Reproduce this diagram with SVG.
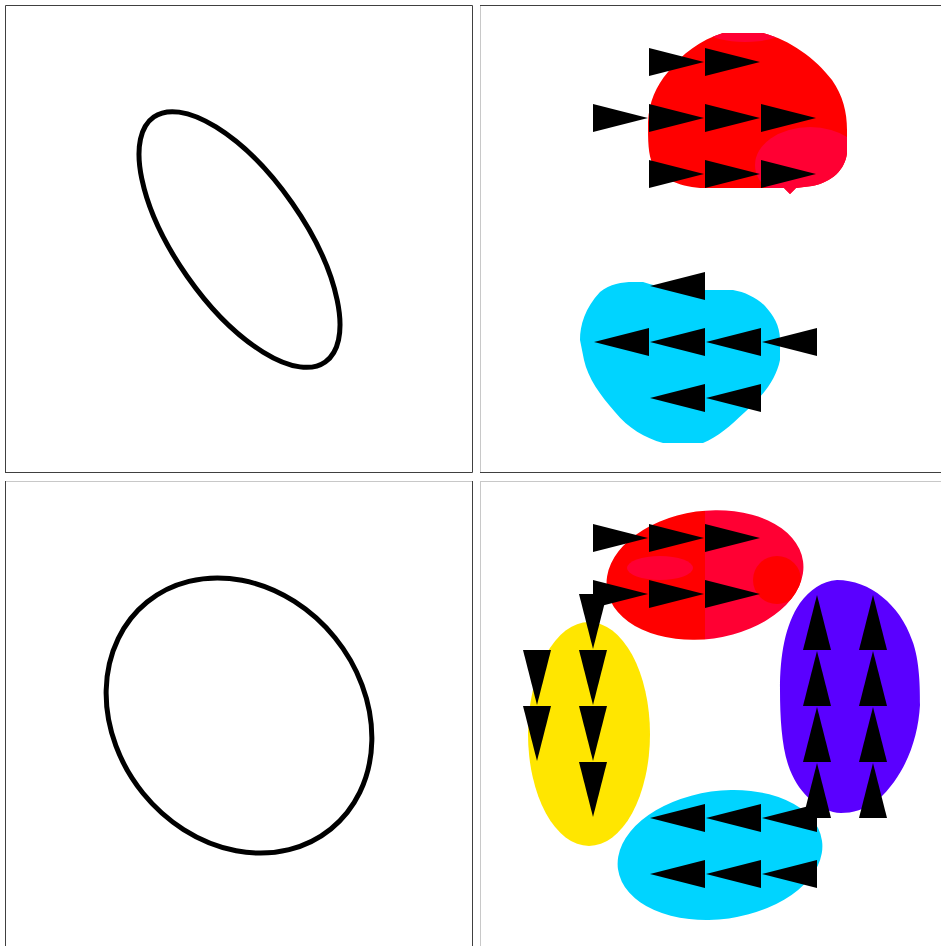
<svg xmlns="http://www.w3.org/2000/svg" xmlns:xlink="http://www.w3.org/1999/xlink" width="941" height="946" viewBox="0 0 941 946">
<style>
.dark{stroke:#404040;stroke-width:1;fill:none}
.light{stroke:#c8c8c8;stroke-width:1;fill:none}
.ring{fill:none;stroke:#000;stroke-width:5}
.arr{fill:#000}
</style>
<defs>
<polygon id="a" points="0,-14 55,0 0,14"/>
<clipPath id="clipRedTop"><path id="redTopShape" d="M723,33 L763,33 C790,40 815,58 832,80 C843,96 847,112 847,130 L847,153 C845,170 832,182 812,186 L796,188 L790,194 L784,188 L700,188 C678,186 660,178 653,165 C648,155 648,140 648,122 C649,102 656,86 668,72 C682,54 700,40 723,33 Z"/></clipPath>
<clipPath id="clipRedBot"><ellipse cx="705" cy="575" rx="99" ry="64" transform="rotate(-8 705 575)"/></clipPath>
</defs>
<rect width="941" height="946" fill="#fff"/>

<g id="frames">
<path class="dark" d="M5.5,472 V5.5 H472.5 V472.5 H5"/>
<path class="light" d="M480.5,5 V473"/>
<path class="dark" d="M480,5.5 H941 M480,472.5 H941"/>
<path class="light" d="M5,481.5 H473"/>
<path class="dark" d="M5.5,481 V946 M472.5,481 V946"/>
<path class="light" d="M480,481.5 H941 M480.5,481 V946"/>
</g>

<g id="panel-top-left">
<ellipse class="ring" cx="239.5" cy="239.5" rx="149.5" ry="64" transform="rotate(55 239.5 239.5)"/>
</g>

<g id="panel-bottom-left">
<ellipse class="ring" cx="239" cy="715.5" rx="146" ry="123.5" transform="rotate(51 239 715.5)"/>
</g>

<g id="panel-top-right">
<g id="blob-red-top" clip-path="url(#clipRedTop)">
<rect x="640" y="30" width="210" height="170" fill="#ff0000"/>
<ellipse cx="810" cy="165" rx="55" ry="38" fill="#ff0033"/>
<ellipse cx="745" cy="33" rx="35" ry="9" fill="#ff0033"/>
</g>
<path id="blob-cyan-top" fill="#00d4ff" d="M600,292 C610,284 622,282 633,282 L643,282 C660,288 680,290 703,290 L733,290 C745,292 757,298 765,306 C773,315 780,325 780,340 L780,360 C776,380 762,397 745,412 C730,426 718,437 703,443 L663,443 C645,438 628,428 615,412 C600,395 588,378 584,360 L580,340 C580,325 585,308 600,292 Z"/>
<g id="arrows-top" class="arr">
<use xlink:href="#a" href="#a" transform="translate(649,62)"/>
<use xlink:href="#a" href="#a" transform="translate(705,62)"/>
<use xlink:href="#a" href="#a" transform="translate(593,118)"/>
<use xlink:href="#a" href="#a" transform="translate(649,118)"/>
<use xlink:href="#a" href="#a" transform="translate(705,118)"/>
<use xlink:href="#a" href="#a" transform="translate(761,118)"/>
<use xlink:href="#a" href="#a" transform="translate(649,174)"/>
<use xlink:href="#a" href="#a" transform="translate(705,174)"/>
<use xlink:href="#a" href="#a" transform="translate(761,174)"/>
<use xlink:href="#a" href="#a" transform="translate(705,286) rotate(180)"/>
<use xlink:href="#a" href="#a" transform="translate(649,342) rotate(180)"/>
<use xlink:href="#a" href="#a" transform="translate(705,342) rotate(180)"/>
<use xlink:href="#a" href="#a" transform="translate(761,342) rotate(180)"/>
<use xlink:href="#a" href="#a" transform="translate(817,342) rotate(180)"/>
<use xlink:href="#a" href="#a" transform="translate(705,398) rotate(180)"/>
<use xlink:href="#a" href="#a" transform="translate(761,398) rotate(180)"/>
</g>
</g>

<g id="panel-bottom-right">
<g id="blob-red-bottom" clip-path="url(#clipRedBot)">
<rect x="600" y="505" width="105" height="140" fill="#ff0000"/>
<rect x="705" y="505" width="105" height="140" fill="#ff0033"/>
<ellipse cx="660" cy="568" rx="33" ry="12" fill="#ff0033"/>
<circle cx="777" cy="580" r="24" fill="#ff0000"/>
</g>
<path id="blob-purple" fill="#5a00ff" d="M837,580 C870,580 900,605 912,640 C920,660 920,690 920,705 C918,740 905,775 878,800 C865,810 852,813 841,813 C820,812 800,795 790,770 C782,750 780,720 780,690 C780,655 785,625 800,603 C810,590 822,581 837,580 Z"/>
<ellipse id="blob-yellow" cx="589" cy="734" rx="61" ry="112" fill="#ffe600"/>
<ellipse id="blob-cyan-bottom" cx="720" cy="855" rx="103" ry="64" transform="rotate(-8 720 855)" fill="#00d4ff"/>
<g id="arrows-bottom" class="arr">
<use xlink:href="#a" href="#a" transform="translate(593,538)"/>
<use xlink:href="#a" href="#a" transform="translate(649,538)"/>
<use xlink:href="#a" href="#a" transform="translate(705,538)"/>
<use xlink:href="#a" href="#a" transform="translate(593,594)"/>
<use xlink:href="#a" href="#a" transform="translate(649,594)"/>
<use xlink:href="#a" href="#a" transform="translate(705,594)"/>
<use xlink:href="#a" href="#a" transform="translate(593,594) rotate(90)"/>
<use xlink:href="#a" href="#a" transform="translate(593,650) rotate(90)"/>
<use xlink:href="#a" href="#a" transform="translate(593,706) rotate(90)"/>
<use xlink:href="#a" href="#a" transform="translate(593,762) rotate(90)"/>
<use xlink:href="#a" href="#a" transform="translate(537,650) rotate(90)"/>
<use xlink:href="#a" href="#a" transform="translate(537,706) rotate(90)"/>
<use xlink:href="#a" href="#a" transform="translate(817,650) rotate(-90)"/>
<use xlink:href="#a" href="#a" transform="translate(817,706) rotate(-90)"/>
<use xlink:href="#a" href="#a" transform="translate(817,762) rotate(-90)"/>
<use xlink:href="#a" href="#a" transform="translate(817,818) rotate(-90)"/>
<use xlink:href="#a" href="#a" transform="translate(873,650) rotate(-90)"/>
<use xlink:href="#a" href="#a" transform="translate(873,706) rotate(-90)"/>
<use xlink:href="#a" href="#a" transform="translate(873,762) rotate(-90)"/>
<use xlink:href="#a" href="#a" transform="translate(873,818) rotate(-90)"/>
<use xlink:href="#a" href="#a" transform="translate(705,818) rotate(180)"/>
<use xlink:href="#a" href="#a" transform="translate(761,818) rotate(180)"/>
<use xlink:href="#a" href="#a" transform="translate(817,818) rotate(180)"/>
<use xlink:href="#a" href="#a" transform="translate(705,874) rotate(180)"/>
<use xlink:href="#a" href="#a" transform="translate(761,874) rotate(180)"/>
<use xlink:href="#a" href="#a" transform="translate(817,874) rotate(180)"/>
</g>
</g>
</svg>
